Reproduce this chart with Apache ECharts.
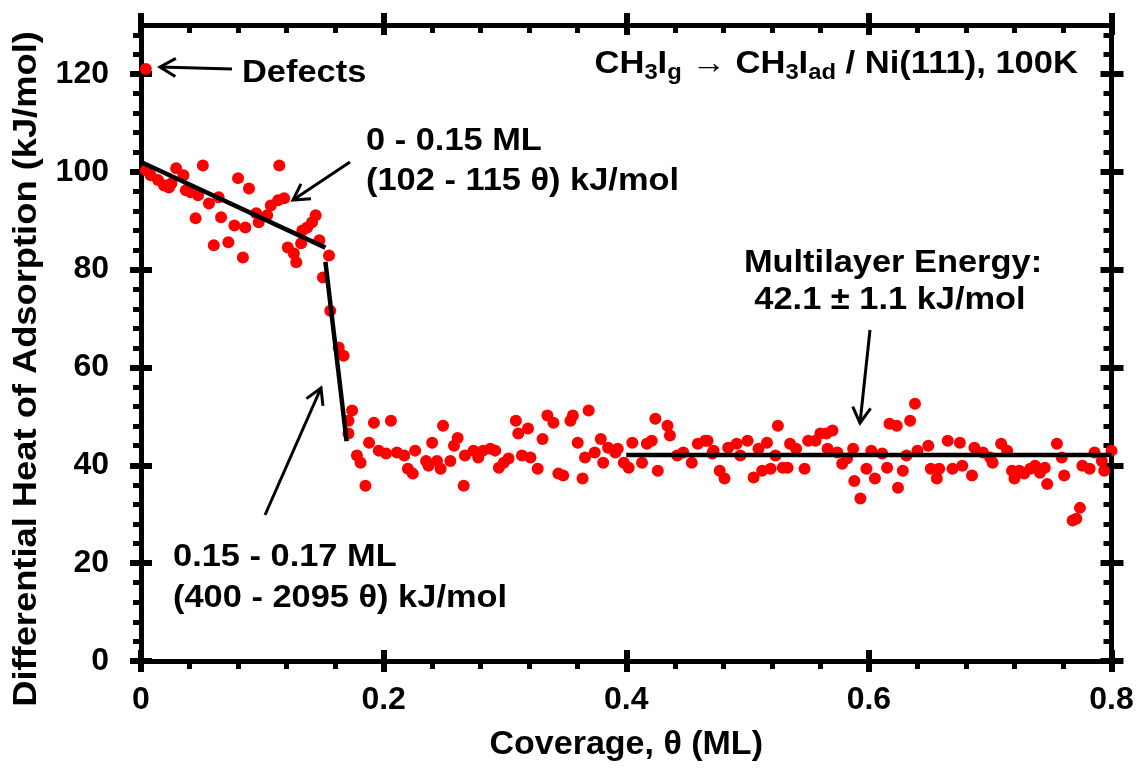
<!DOCTYPE html>
<html><head><meta charset="utf-8">
<script src="https://cdn.jsdelivr.net/npm/echarts@6/dist/echarts.min.js"></script>
<style>html,body{margin:0;padding:0;background:#fff}#c{width:1137px;height:768px}</style>
</head><body><div id="c"></div><script>
// ---- data ----
const coverage = [
  0.004,
  0.004,0.008,0.014,0.019,0.023,0.025,0.029,0.035,0.037,0.041,0.047,0.051,0.045,0.056,0.064,0.066,0.060,0.072,0.080,0.089,
  0.077,0.086,0.084,0.095,0.097,0.104,0.107,0.113,0.118,0.114,0.121,0.126,0.128,0.133,0.137,0.141,0.144,0.132,0.147,0.155,0.150,
  0.156,0.163,0.167,0.174,0.171,0.171,0.178,0.181,0.185,0.188,0.192,0.196,0.202,0.206,0.211,0.217,0.220,0.224,0.226,0.235,
  0.237,0.240,0.244,0.247,0.249,0.255,0.258,0.261,0.266,0.267,0.274,0.278,0.282,0.288,0.292,0.295,0.299,0.303,0.309,0.311,
  0.314,0.319,0.321,0.327,0.331,0.335,0.340,0.344,0.348,0.354,0.356,0.360,0.364,0.366,0.369,0.374,0.379,0.381,0.385,0.391,
  0.393,0.398,0.402,0.405,0.413,0.417,0.421,0.424,0.426,0.434,0.436,0.442,0.447,0.454,0.459,0.465,0.472,
  0.467,0.471,0.477,0.481,0.484,0.491,0.494,0.500,0.505,0.509,0.512,0.516,0.519,0.525,0.523,0.529,0.533,0.535,0.540,0.547,
  0.550,0.556,0.560,0.565,0.570,0.566,0.574,0.578,0.582,0.587,0.588,0.593,0.598,0.602,0.605,0.611,0.615,0.617,0.623,0.624,
  0.628,0.631,0.634,0.638,0.640,0.649,0.651,0.656,0.658,0.665,0.669,0.675,0.677,0.685,0.687,0.694,0.700,0.702,0.709,0.714,
  0.718,0.720,0.724,0.728,0.733,0.737,0.741,0.745,0.747,0.755,0.759,0.761,0.774,0.768,0.771,0.776,0.782,0.786,0.792,0.794,0.800
];
const heat = [
  121.0,
  100.3,99.3,98.3,97.2,96.8,97.6,100.7,99.3,96.2,95.8,95.2,101.3,90.5,93.5,94.8,90.7,85.0,85.6,98.7,96.6,
  89.0,88.6,82.5,91.5,89.7,91.1,93.1,94.2,94.6,101.3,84.5,83.3,81.5,88.0,88.6,89.7,91.1,85.4,86.0,82.9,78.4,
  71.6,64.1,62.4,51.2,46.5,49.1,42.0,40.5,35.8,44.6,48.7,43.0,42.4,49.1,42.6,42.0,39.3,38.3,43.0,40.9,
  39.9,44.6,40.9,39.3,48.1,40.9,44.0,45.6,35.8,42.0,43.0,41.6,43.0,43.4,43.0,39.5,40.5,41.4,49.1,46.5,
  42.0,47.5,41.6,39.3,45.4,50.2,48.7,38.3,37.9,49.1,50.2,44.6,37.3,41.6,51.2,42.6,45.4,40.5,43.6,42.6,
  43.4,40.5,39.5,44.6,40.5,44.4,45.0,49.5,38.9,48.1,46.1,42.0,42.6,40.5,44.4,45.0,43.0,
  45.0,42.4,38.9,37.3,43.6,44.4,42.0,45.0,37.5,43.4,38.9,44.6,39.3,48.1,42.0,39.5,39.5,44.4,43.4,39.3,
  45.0,45.0,46.5,46.5,47.1,43.4,42.6,40.3,41.4,43.4,36.8,33.2,39.3,43.0,37.3,42.4,39.5,48.5,48.1,35.4,
  38.9,42.0,49.1,52.6,43.0,44.0,39.3,37.3,39.3,45.0,39.3,44.6,39.9,37.9,43.6,42.6,41.6,40.5,44.4,43.0,
  38.9,37.3,38.9,38.3,39.3,39.9,38.5,39.5,36.2,44.4,41.6,37.9,31.3,28.7,29.1,39.9,39.3,42.6,40.9,38.9,43.0
];
// fitted lines (coverage, heat) endpoints
const fitLowX = [0, 0.152];
const fitLowY = [102, 84.5];
const fitSteepX = [0.152, 0.1695];
const fitSteepY = [81.6, 44.9];
const multiX = [0.4, 0.8];
const multiY = [42.1, 42.1];
// axis ticks
const xMajorTicks = [0, 0.2, 0.4, 0.6, 0.8];
const xMinorTicks = [0.04,0.08,0.12,0.16,0.24,0.28,0.32,0.36,0.44,0.48,0.52,0.56,0.64,0.68,0.72,0.76];
const yMajorTicks = [0, 20, 40, 60, 80, 100, 120];
const yMinorTicks = [4,8,12,16,24,28,32,36,44,48,52,56,64,68,72,76,84,88,92,96,104,108,112,116,124,128];

const FONT = 'Liberation Sans';
const zip = (a, b) => a.map((v, i) => [v, b[i]]);

function xAx(pos, ticks, len, width, inside, opt) {
  return Object.assign({
    type: 'value', position: pos, min: 0, max: 0.8, gridIndex: 0,
    axisLine: { show: false, onZero: false },
    axisTick: { show: true, customValues: ticks, length: len, inside: inside, lineStyle: { color: '#000', width: width } },
    axisLabel: { show: false }, splitLine: { show: false }
  }, opt || {});
}
function yAx(pos, ticks, len, width, inside, opt) {
  return Object.assign({
    type: 'value', position: pos, min: 0, max: 130, gridIndex: 0,
    axisLine: { show: false, onZero: false },
    axisTick: { show: true, customValues: ticks, length: len, inside: inside, lineStyle: { color: '#000', width: width } },
    axisLabel: { show: false }, splitLine: { show: false }
  }, opt || {});
}
const lineAxis = { show: true, onZero: false, lineStyle: { color: '#000', width: 5 } };
const labelStyle = { fontFamily: FONT, fontWeight: 'bold', fontSize: 32, color: '#000' };

const xAxes = [
  xAx('bottom', xMajorTicks, 11, 6, false, {
    axisLine: lineAxis,
    axisLabel: Object.assign({ show: true, customValues: xMajorTicks, margin: 23 }, labelStyle),
    name: 'Coverage, θ (ML)', nameLocation: 'middle', nameGap: 67,
    nameTextStyle: { fontFamily: FONT, fontWeight: 'bold', fontSize: 34, color: '#000' }
  }),
  xAx('bottom', xMajorTicks, 11, 6, true),
  xAx('bottom', xMinorTicks, 8, 5, false),
  xAx('top', xMajorTicks, 12, 6, false, { axisLine: lineAxis }),
  xAx('top', xMajorTicks, 10, 6, true),
  xAx('top', xMinorTicks, 8, 5, true)
];
const yAxes = [
  yAx('left', yMajorTicks, 11, 6, false, {
    axisLine: lineAxis,
    axisLabel: Object.assign({ show: true, customValues: yMajorTicks, margin: 32 }, labelStyle)
  }),
  yAx('left', yMajorTicks, 11, 6, true),
  yAx('left', yMinorTicks, 8, 5, false),
  yAx('right', yMajorTicks, 12, 6, false, { axisLine: lineAxis }),
  yAx('right', yMajorTicks, 11, 6, true),
  yAx('right', yMinorTicks, 8, 5, true)
];

function arrow(sx, sy, tx, ty) {
  const dx = tx - sx, dy = ty - sy, l = Math.hypot(dx, dy);
  const bx = -dx / l, by = -dy / l, L = 18, a = Math.PI / 6, c = Math.cos(a), s = Math.sin(a);
  const p1 = [tx + L * (bx * c - by * s), ty + L * (bx * s + by * c)];
  const p2 = [tx + L * (bx * c + by * s), ty + L * (-bx * s + by * c)];
  return [
    { type: 'line', z: 100, shape: { x1: sx, y1: sy, x2: tx, y2: ty }, style: { stroke: '#000', lineWidth: 3 } },
    { type: 'polyline', z: 100, shape: { points: [p1, [tx, ty], p2] }, style: { stroke: '#000', lineWidth: 3, fill: null } }
  ];
}
const SX = 1.075;
function txt(x, y, text, align) {
  return { type: 'text', z: 100, x: x, y: y, scaleX: SX,
    style: { x: 0, y: 0, text: text, align: align || 'left', verticalAlign: 'middle',
      font: 'bold 32px "' + FONT + '"', fill: '#000' } };
}

const graphics = [].concat(
  // y-axis title
  [{ type: 'text', z: 100, x: 27, y: 369, rotation: Math.PI / 2, scaleX: 1.1,
     style: { x: 0, y: 0, text: 'Differential Heat of Adsorption (kJ/mol)', align: 'center', verticalAlign: 'middle',
       font: 'bold 33px "' + FONT + '"', fill: '#000' } }],
  txt(242, 73, 'Defects'),
  arrow(232, 69, 160, 67),
  txt(366, 141, '0 - 0.15 ML'),
  txt(366, 181, '(102 - 115 θ) kJ/mol'),
  arrow(350, 162, 293, 200),
  txt(893, 263, 'Multilayer Energy:', 'center'),
  txt(890, 300, '42.1 ± 1.1 kJ/mol', 'center'),
  arrow(870, 330, 860, 423),
  txt(173, 557, '0.15 - 0.17 ML'),
  txt(173, 598, '(400 - 2095 θ) kJ/mol'),
  arrow(265, 515, 321, 388),
  [{
    type: 'text', z: 100, x: 1078, y: 64, scaleX: 1.08,
    style: {
      x: 0, y: 0, align: 'right', verticalAlign: 'middle',
      text: '{a|CH}{s|3}{a|I}{s|g}{a| → CH}{s|3}{a|I}{s|ad}{a| / Ni(111), 100K}',
      rich: {
        a: { fontFamily: FONT, fontWeight: 'bold', fontSize: 32, lineHeight: 40, fill: '#000' },
        s: { fontFamily: FONT, fontWeight: 'bold', fontSize: 22, lineHeight: 22, verticalAlign: 'bottom', fill: '#000' }
      }
    }
  }]
);

const chart = echarts.init(document.getElementById('c'), null, { renderer: 'canvas' });
chart.setOption({
  animation: false,
  backgroundColor: '#fff',
  grid: { left: 141, right: 25.5, top: 25, bottom: 107, containLabel: false },
  xAxis: xAxes,
  yAxis: yAxes,
  series: [
    { type: 'scatter', data: zip(coverage, heat), symbolSize: 12, itemStyle: { color: '#ff0000', opacity: 1 }, z: 2 },
    { type: 'line', data: zip(fitLowX, fitLowY), symbol: 'none', lineStyle: { color: '#000', width: 4.5 }, z: 3 },
    { type: 'line', data: zip(fitSteepX, fitSteepY), symbol: 'none', lineStyle: { color: '#000', width: 4.5 }, z: 3 },
    { type: 'line', data: zip(multiX, multiY), symbol: 'none', lineStyle: { color: '#000', width: 4.5 }, z: 3 }
  ],
  graphic: graphics
});
</script></body></html>
